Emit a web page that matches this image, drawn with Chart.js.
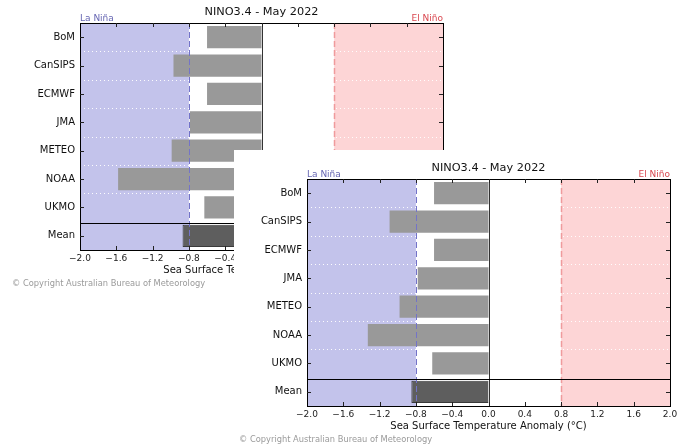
<!DOCTYPE html>
<html>
<head>
<meta charset="utf-8">
<script src="https://cdn.jsdelivr.net/npm/chart.js@4.4.0/dist/chart.umd.min.js"></script>
<style>
  html, body { margin: 0; padding: 0; background: #fff; overflow: hidden; }
  body { width: 688px; height: 447px; position: relative; }
  canvas { position: absolute; }
  #backChart { left: 7px; top: -6px; }
  #frontChart { left: 234px; top: 150px; }
</style>
</head>
<body>
<canvas id="backChart" width="454" height="300"></canvas>
<canvas id="frontChart" width="454" height="300"></canvas>
<script>
// models, Mean last
const models = ['BoM', 'CanSIPS', 'ECMWF', 'JMA', 'METEO', 'NOAA', 'UKMO', 'Mean'];
// the copy behind (top left)
const backValues = [-0.60, -0.97, -0.60, -0.79, -0.99, -1.58, -0.63, -0.87];
// the copy in front (bottom right)
const frontValues = [-0.60, -1.09, -0.60, -0.78, -0.98, -1.33, -0.62, -0.85];
const xMin = -2.0;
const xMax = 2.0;
const xStep = 0.4;
const laNina = -0.8;
const elNino = 0.8;
const chartTitle = 'NINO3.4 - May 2022';
const axisTitle = 'Sea Surface Temperature Anomaly (\u00b0C)';
const copyright = '\u00a9 Copyright Australian Bureau of Meteorology';

const FONT = "'DejaVu Sans', sans-serif";

function fmtTick(v) {
  if (Math.abs(v) < 1e-9) v = 0;
  return v.toFixed(1).replace('-', '\u2212');
}

const ensoPlugin = {
  id: 'enso',
  beforeDraw(chart) {
    const { ctx, chartArea: a, scales: { x } } = chart;
    ctx.save();
    ctx.fillStyle = '#fff';
    ctx.fillRect(0, 0, chart.width, chart.height);
    ctx.fillStyle = '#c3c3eb';
    ctx.fillRect(a.left, a.top, x.getPixelForValue(laNina) - a.left, a.bottom - a.top);
    ctx.fillStyle = '#fdd5d6';
    const e = x.getPixelForValue(elNino);
    ctx.fillRect(e, a.top, a.right - e, a.bottom - a.top);
    ctx.restore();
  },
  beforeDatasetsDraw(chart) {
    const { ctx, chartArea: a, scales: { y } } = chart;
    ctx.save();
    ctx.strokeStyle = 'rgba(255,255,255,0.95)';
    ctx.lineWidth = 1;
    ctx.setLineDash([1, 3]);
    for (let i = 1; i < models.length - 1; i++) {
      const py = Math.round((y.getPixelForValue(i - 1) + y.getPixelForValue(i)) / 2) + 0.5;
      ctx.beginPath();
      ctx.moveTo(a.left, py);
      ctx.lineTo(a.right, py);
      ctx.stroke();
    }
    ctx.restore();
  },
  afterDatasetsDraw(chart) {
    const { ctx, chartArea: a, scales: { x, y } } = chart;
    ctx.save();
    // threshold lines
    ctx.lineWidth = 1;
    ctx.setLineDash([6, 3]);
    ctx.strokeStyle = '#7373c8';
    let px = Math.round(x.getPixelForValue(laNina)) + 0.5;
    ctx.beginPath(); ctx.moveTo(px, a.top); ctx.lineTo(px, a.bottom); ctx.stroke();
    ctx.strokeStyle = '#f09a9c';
    ctx.lineWidth = 1.5;
    px = Math.round(x.getPixelForValue(elNino)) + 0.5;
    ctx.beginPath(); ctx.moveTo(px, a.top); ctx.lineTo(px, a.bottom); ctx.stroke();
    ctx.setLineDash([]);
    // zero line
    ctx.lineWidth = 1;
    ctx.strokeStyle = '#333';
    px = Math.round(x.getPixelForValue(0)) + 0.5;
    ctx.beginPath(); ctx.moveTo(px, a.top); ctx.lineTo(px, a.bottom); ctx.stroke();
    // line above Mean
    const n = models.length;
    const sy = Math.round((y.getPixelForValue(n - 2) + y.getPixelForValue(n - 1)) / 2) + 1.5;
    ctx.strokeStyle = '#000';
    ctx.beginPath(); ctx.moveTo(a.left, sy); ctx.lineTo(a.right, sy); ctx.stroke();
    // frame
    ctx.strokeRect(Math.round(a.left) + 0.5, Math.round(a.top) + 0.5,
      Math.round(a.right - a.left), Math.round(a.bottom - a.top));
    // inward ticks
    ctx.strokeStyle = '#222';
    for (let v = xMin + xStep; v < xMax - 1e-9; v += xStep) {
      const tx = Math.round(x.getPixelForValue(v)) + 0.5;
      ctx.beginPath();
      ctx.moveTo(tx, a.bottom); ctx.lineTo(tx, a.bottom - 4);
      ctx.moveTo(tx, a.top); ctx.lineTo(tx, a.top + 4);
      ctx.stroke();
    }
    models.forEach((m, i) => {
      const ty = Math.round(y.getPixelForValue(i)) + 0.5;
      ctx.beginPath();
      ctx.moveTo(a.left, ty); ctx.lineTo(a.left + 4, ty);
      ctx.moveTo(a.right, ty); ctx.lineTo(a.right - 4, ty);
      ctx.stroke();
    });
    // texts
    const cx = (a.left + a.right) / 2;
    ctx.textBaseline = 'middle';
    ctx.textAlign = 'center';
    ctx.fillStyle = '#111';
    ctx.font = '11.3px ' + FONT;
    ctx.fillText(chartTitle, cx, a.top - 11);
    ctx.font = '10px ' + FONT;
    ctx.fillText(axisTitle, cx, a.bottom + 20);
    ctx.textBaseline = 'alphabetic';
    ctx.font = '9px ' + FONT;
    ctx.textAlign = 'left';
    ctx.fillStyle = '#6767b3';
    ctx.fillText('La Ni\u00f1a', a.left, a.top - 2);
    ctx.textAlign = 'right';
    ctx.fillStyle = '#d9474f';
    ctx.fillText('El Ni\u00f1o', a.right, a.top - 2);
    ctx.textAlign = 'left';
    ctx.textBaseline = 'middle';
    ctx.font = '8.3px ' + FONT;
    ctx.fillStyle = '#9a9a9a';
    ctx.fillText(copyright, 5, 290);
    ctx.restore();
  }
};

function buildChart(id, values) {
  const ctx = document.getElementById(id).getContext('2d');
  return new Chart(ctx, {
    type: 'bar',
    data: {
      labels: models,
      datasets: [{
        data: values,
        backgroundColor: models.map(m => m === 'Mean' ? '#5e5e5e' : '#999999'),
        borderColor: '#3a3a3a',
        borderWidth: models.map(m => m === 'Mean' ? 1 : 0),
        barPercentage: 0.78,
        categoryPercentage: 1.0
      }]
    },
    options: {
      indexAxis: 'y',
      responsive: false,
      animation: false,
      layout: { padding: { top: 29, right: 18, bottom: 0, left: 0 } },
      plugins: { legend: { display: false }, tooltip: { enabled: false } },
      scales: {
        x: {
          type: 'linear',
          min: xMin,
          max: xMax,
          afterFit: s => { s.height = 44; },
          afterBuildTicks: s => {
            const t = [];
            for (let v = xMin; v <= xMax + 1e-9; v += xStep) t.push({ value: +v.toFixed(1) });
            s.ticks = t;
          },
          ticks: {
            autoSkip: false,
            maxRotation: 0,
            padding: 3,
            color: '#222',
            font: { family: FONT, size: 9 },
            callback: v => fmtTick(v)
          },
          grid: { display: false, drawTicks: false },
          border: { display: false }
        },
        y: {
          type: 'category',
          offset: true,
          afterFit: s => { s.width = 73; },
          ticks: {
            autoSkip: false,
            padding: 5,
            color: '#111',
            font: { family: FONT, size: 10 }
          },
          grid: { display: false, drawTicks: false },
          border: { display: false }
        }
      }
    },
    plugins: [ensoPlugin]
  });
}

buildChart('backChart', backValues);
buildChart('frontChart', frontValues);
</script>
</body>
</html>
